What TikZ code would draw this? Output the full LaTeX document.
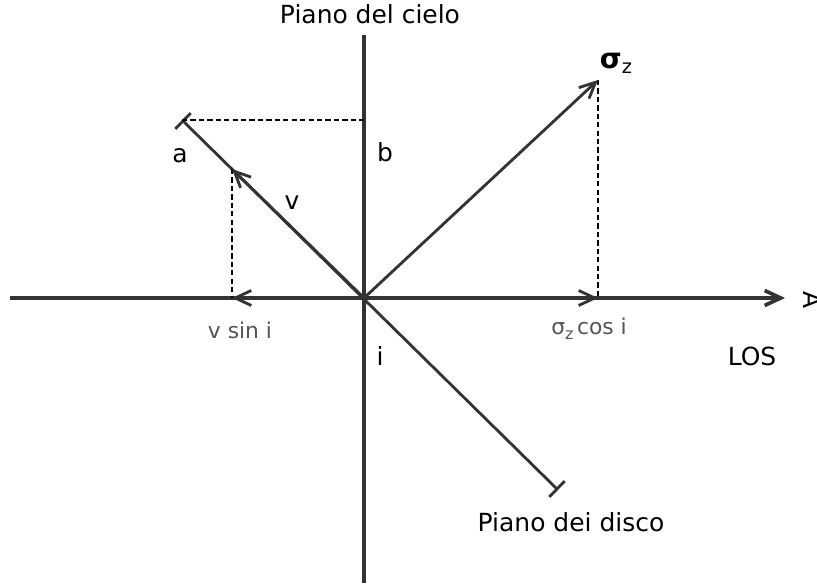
\documentclass[tikz,border=0pt]{standalone}
\usepackage{fontspec}
\setmainfont{DejaVu Sans}
\usepackage{tikz}
\usetikzlibrary{arrows.meta,positioning}
\definecolor{axisgray}{rgb}{0.2,0.2,0.2}
\definecolor{labelgray}{rgb}{0.33,0.33,0.33}
\tikzset{
  axis/.style={
    line width=2.1pt,
    axisgray,
    -{Straight Barb[length=3.2mm,width=3mm]}
  },
  plane/.style={
    line width=1.6pt,
    axisgray,
    {Bar[width=4.4mm]}-{Bar[width=4.4mm]}
  },
  vec/.style={
    line width=1.6pt,
    axisgray,
    -{Straight Barb[length=3.2mm,width=3mm]}
  },
  proj/.style={
    line width=1.3pt,
    black,
    dash pattern=on 3pt off 1.8pt
  },
  lbl/.style={
    inner sep=0pt,
    font=\fontsize{14.2}{17}\selectfont
  },
  small/.style={
    inner sep=0pt,
    text=labelgray,
    font=\fontsize{12.4}{15}\selectfont
  }
}

\begin{document}
\begin{tikzpicture}
\useasboundingbox (-7.28,-5.8) rectangle (9.06,5.96);
% punti
\coordinate (O) at (0,0);
\coordinate (L) at (-7.08,0);
\coordinate (R) at (8.42,0);
\coordinate (T) at (0,5.26);
\coordinate (B) at (0,-5.7);
\coordinate (a) at (-3.64,3.56);
\coordinate (d) at (3.88,-3.84);
\coordinate (v) at (-2.64,2.58);
\coordinate (s) at (4.68,4.36);
\coordinate (vx) at (v |- O);
\coordinate (sx) at (s |- O);
\coordinate (b) at (a -| O);
% assi e piani
\draw[axis] (L) -- (R);
\draw[line width=2.1pt,axisgray] (B) -- (T);
\draw[plane] (a) -- (d);
% proiezioni
\draw[proj] (a) -- (b);
\draw[proj] (v) -- (vx);
\draw[proj] (s) -- (sx);
% vettori
\draw[vec] (O) -- (v);
\draw[vec] (O) -- (s);
\draw[vec] (O) -- (vx);
\draw[vec] (O) -- (sx);
% etichette
\node[lbl] (cielo) at (0.12,5.68) {Piano del cielo};
\node[lbl] (disco) at (4.14,-4.48) {Piano dei disco};
\node[lbl] (la) at (-3.68,2.84) {a};
\node[lbl] (lb) at (0.42,2.92) {b};
\node[lbl] (lv) at (-1.44,1.9) {v};
\node[lbl] (li) at (0.32,-1.16) {i};
\node[lbl] (los) at (7.76,-1.16) {LOS};
\node[lbl,rotate=-90] (lA) at (8.98,-0.04) {A};
\node[lbl] (ls) at (5.04,4.7) {{\fontsize{16}{18}\selectfont\bfseries σ}\raisebox{-0.35ex}{\fontsize{11}{12}\selectfont z}};
\node[small] (vsin) at (-2.48,-0.64) {v sin i};
\node[small] (scos) at (4.5,-0.62) {σ\raisebox{-0.4ex}{\fontsize{9}{10}\selectfont z}\,cos i};
\end{tikzpicture}
\end{document}
